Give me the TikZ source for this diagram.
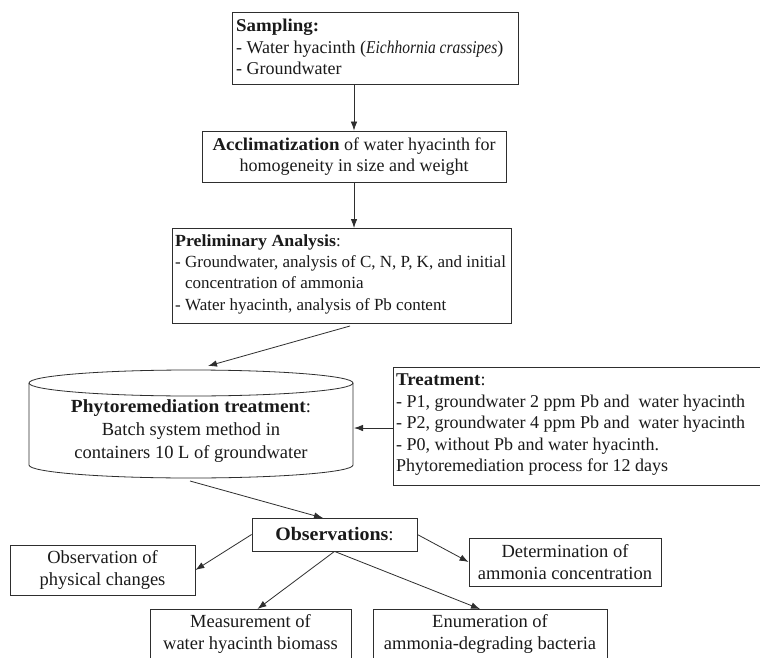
\documentclass[tikz,border=0pt]{standalone}
\usepackage{fontspec}
\setmainfont{Liberation Serif}[BoldFeatures={FakeStretch=1.05}]
\usetikzlibrary{arrows.meta,calc}
\definecolor{linec}{HTML}{2E2E2E}
\definecolor{textc}{HTML}{1A1A1A}
\newcommand{\fsz}{\fontsize{18pt}{21.5pt}\selectfont}
\newcommand{\fsl}{\fontsize{18.5pt}{22pt}\selectfont}
\newcommand{\fss}{\fontsize{17pt}{21.3pt}\selectfont}
\begin{document}
\begin{tikzpicture}[x={(1pt,0)},y={(0,-1pt)},
  box/.style={draw=linec, line width=0.8pt, rectangle, inner sep=0pt, font=\fsz, text=textc},
  txt/.style={inner sep=0pt, font=\fsz, text=textc, align=center},
  ltxt/.style={inner sep=0pt, font=\fsz, text=textc, align=left, anchor=west},
  arr/.style={draw=linec, line width=0.8pt, -{Latex[length=9pt,width=6.5pt]}}]
\clip (0,0) rectangle (760,658);
\fill[white] (0,0) rectangle (760,658);

% boxes
\node[box, anchor=north west, minimum width=286pt, minimum height=72pt] (samp) at (232,12) {};
\node[ltxt] (samptext) at (236,47)
  {\textbf{Sampling:}\\- Water hyacinth (\scalebox{0.86}[1]{\textit{Eichhornia crassipes}})\\- Groundwater};
\node[box, minimum width=304pt, minimum height=51pt, align=center] (accl) at (354,156.5)
  {\textbf{Acclimatization} of water hyacinth for\\homogeneity in size and weight};
\node[box, anchor=north west, minimum width=339pt, minimum height=95pt] (prelim) at (172,228) {};
\node[ltxt, font=\fss] (prelimtext) at (175,274)
  {\textbf{Preliminary Analysis}:\\- Groundwater, analysis of C, N, P, K, and initial\\\phantom{- }concentration of ammonia\\- Water hyacinth, analysis of Pb content};

% cylinder
\draw[linec, line width=0.8pt, fill=white] (29,383) -- (29,465)
  .. controls (29,472.2) and (101.5,478) .. (191,478)
  .. controls (280.5,478) and (353,472.2) .. (353,465) -- (353,383);
\draw[linec, line width=0.8pt] (191,383) ellipse [x radius=162pt, y radius=13pt];
\node[txt, font=\fontsize{18.5pt}{23pt}\selectfont] (cyltext) at (191,431)
  {\textbf{Phytoremediation treatment}:\\Batch system method in\\containers 10 L of groundwater};
\coordinate (cyltop) at (208,366);
\coordinate (cylright) at (354,428);
\coordinate (cylbot) at (190,481);

\node[box, anchor=north west, minimum width=380pt, minimum height=118pt] (treat) at (393,367) {};
\node[ltxt] (treattext) at (396,425)
  {\textbf{Treatment}:\\- P1, groundwater 2 ppm Pb and \ water hyacinth\\- P2, groundwater 4 ppm Pb and \ water hyacinth\\- P0, without Pb and water hyacinth.\\Phytoremediation process for 12 days};

\node[box, minimum width=165pt, minimum height=33pt, font=\fontsize{19pt}{22pt}\selectfont] (obs) at (334.5,534.5) {\textbf{Observations}:};
\node[box, minimum width=185pt, minimum height=50pt, align=center, font=\fsl] (phys) at (102.5,570)
  {Observation of\\physical changes};
\node[box, minimum width=192pt, minimum height=48pt, align=center, font=\fsl] (det) at (565,562)
  {Determination of\\ammonia concentration};
\node[box, anchor=north, minimum width=201pt, minimum height=70pt] (meas) at (250.5,609) {};
\node[txt, font=\fsl] (meastext) at (250.5,634) {Measurement of\\water hyacinth biomass};
\node[box, anchor=north, minimum width=234pt, minimum height=70pt] (enum) at (490,609) {};
\node[txt, font=\fsl] (enumtext) at (490,634) {Enumeration of\\ammonia-degrading bacteria};

% connectors
\coordinate (p3s) at (350,326);
\coordinate (obsin) at (323,518);
\draw[arr] (accl.north |- samp.south) -- (accl.north);
\draw[arr] (accl.south) -- (accl.south |- prelim.north);
\draw[arr] (p3s) -- (cyltop);
\draw[arr] (treat.west |- cylright) -- (cylright);
\draw[arr] (cylbot) -- (obsin);
\draw[arr] (obs.west) -- (phys.east);
\draw[arr] (obs.south) -- ($(meas.north)+(7,0)$);
\draw[arr] (obs.south) -- ($(enum.north)+(-10,0)$);
\draw[arr] (obs.east) -- (det.west);
\end{tikzpicture}
\end{document}
